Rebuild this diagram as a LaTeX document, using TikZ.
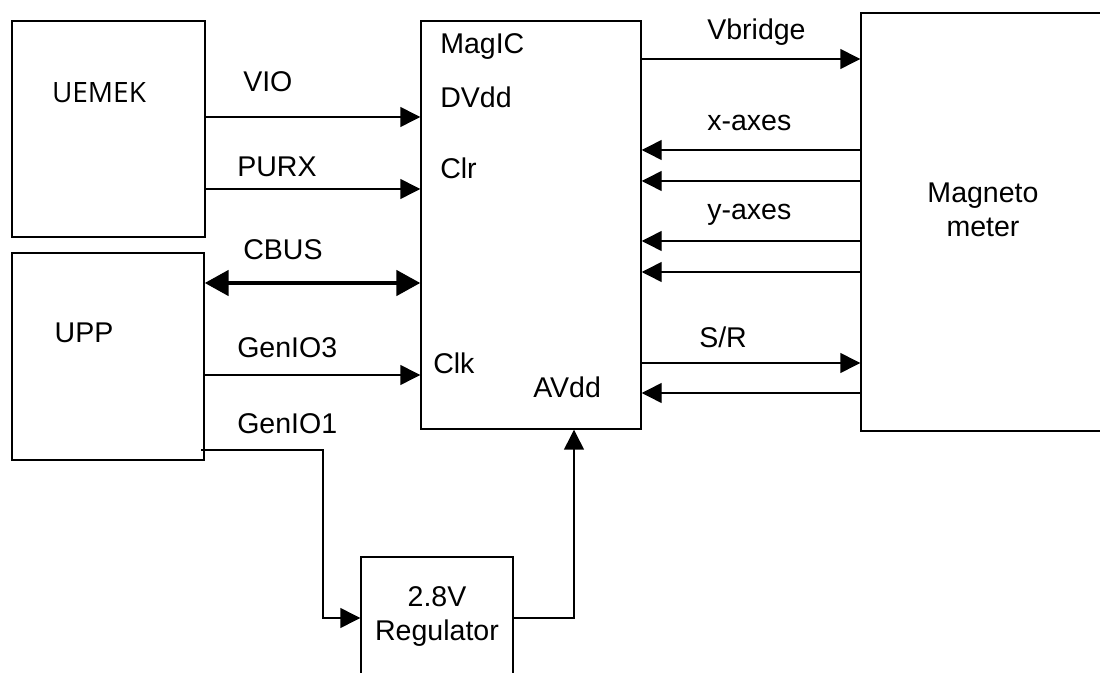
\documentclass[tikz,border=0pt]{standalone}
\usepackage{fontspec}
\setmainfont{Liberation Sans}
\newfontfamily\uefont{Open Sans}
\usetikzlibrary{arrows.meta}
\tikzset{
  box/.style={draw, line width=1.1pt, rectangle, inner sep=0pt},
  lbl/.style={inner sep=0pt, font=\fontsize{21.4}{25.5}\selectfont},
  arr/.style={line width=1.1pt, -{Triangle[length=15pt,width=15pt]}},
  bus/.style={line width=3pt, {Triangle[length=18pt,width=19pt]}-{Triangle[length=18pt,width=19pt]}},
  wire/.style={line width=1.1pt}
}
\begin{document}
\begin{tikzpicture}[x=0.75pt,y=-0.75pt]
\useasboundingbox (0,0) rectangle (1100,673);
% boxes
\node[box, minimum width=144.75pt, minimum height=162pt] (uemek) at (108.5,129) {};
\node[box, minimum width=144pt, minimum height=155.25pt] (upp) at (108,356.5) {};
\node[box, minimum width=165pt, minimum height=306pt] (magic) at (531,225) {};
\node[box, minimum width=201.75pt, minimum height=313.5pt] (mag) at (995.5,222) {};
\node[box, minimum width=114pt, minimum height=107.25pt] (reg) at (437,628.5) {};
% box labels
\node[inner sep=0pt, font=\uefont\fontsize{21}{25}\selectfont] (tuemek) at (99,93) {UEMEK};
\node[lbl] (tupp) at (84,333) {UPP};
\node[lbl, anchor=west] (tmagic) at (440,47) {MagIC};
\node[lbl, anchor=west] (tdvdd) at (440,97) {DVdd};
\node[lbl, anchor=west] (tclr) at (440,168) {Clr};
\node[lbl, anchor=west] (tclk) at (433,363) {Clk};
\node[lbl, anchor=west] (tavdd) at (533,387) {AVdd};
\node[lbl, align=center] (tmag) at (983,210) {Magneto\\meter};
\node[lbl, align=center] (treg) at (437,616) {2.8V\\Regulator};
% left connectors
\draw[arr] (uemek.east |- 0,117) -- (magic.west |- 0,117);
\node[lbl, anchor=west] (lvio) at (243,82) {VIO};
\draw[arr] (uemek.east |- 0,189) -- (magic.west |- 0,189);
\node[lbl, anchor=west] (lpurx) at (237,167) {PURX};
\draw[bus] (upp.east |- 0,283) -- (magic.west |- 0,283);
\node[lbl, anchor=west] (lcbus) at (243,250) {CBUS};
\draw[arr] (upp.east |- 0,375) -- (magic.west |- 0,375);
\node[lbl, anchor=west] (lgen3) at (237,348) {GenIO3};
\coordinate (g1) at (201,450);
\draw[arr] (g1) -- (323,450) -- (323,618) -- (reg.west |- 0,618);
\node[lbl, anchor=west] (lgen1) at (237,424) {GenIO1};
\draw[arr] (reg.east |- 0,618) -- (574,618) -- (magic.south -| 574,0);
% right connectors
\draw[arr] (magic.east |- 0,59) -- (mag.west |- 0,59);
\node[lbl, anchor=west] (lvb) at (707,32) {Vbridge};
\draw[arr] (mag.west |- 0,150) -- (magic.east |- 0,150);
\draw[arr] (mag.west |- 0,181) -- (magic.east |- 0,181);
\node[lbl, anchor=west] (lx) at (707,123) {x-axes};
\draw[arr] (mag.west |- 0,241) -- (magic.east |- 0,241);
\draw[arr] (mag.west |- 0,272) -- (magic.east |- 0,272);
\node[lbl, anchor=west] (ly) at (707,215) {y-axes};
\draw[arr] (magic.east |- 0,363) -- (mag.west |- 0,363);
\node[lbl, anchor=west] (lsr) at (699,337) {S/R};
\draw[arr] (mag.west |- 0,393) -- (magic.east |- 0,393);
\end{tikzpicture}
\end{document}
